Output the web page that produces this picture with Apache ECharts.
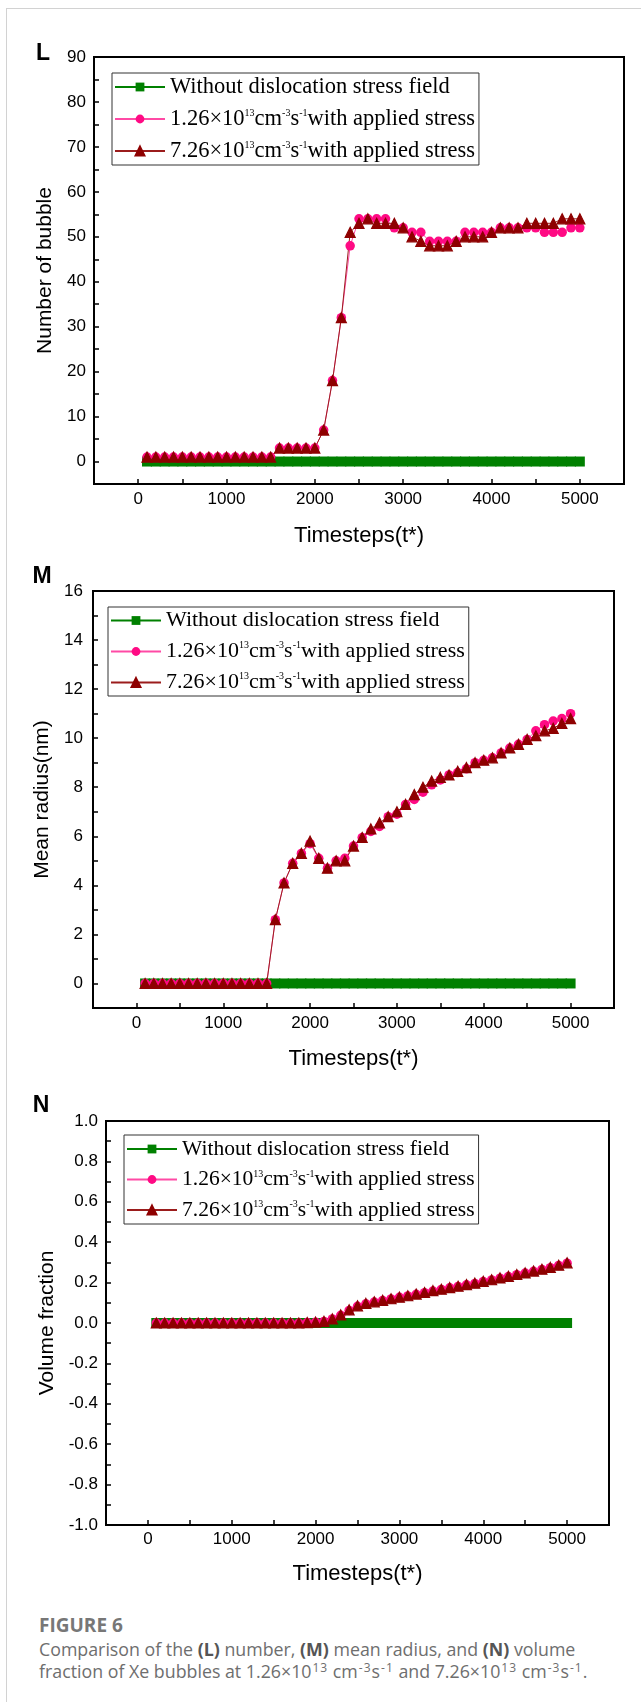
<!DOCTYPE html>
<html>
<head>
<meta charset="utf-8">
<script src="https://cdn.jsdelivr.net/npm/echarts@6/dist/echarts.min.js"></script>
<style>
  html, body { margin: 0; padding: 0; background: #fff; }
  body { width: 641px; height: 1702px; position: relative; overflow: hidden; }
  #frame { position: absolute; left: 6px; top: 8px; width: 700px; height: 1800px;
           border-left: 1px solid #d2d2d2; border-top: 1px solid #d2d2d2; }
  #chart { position: absolute; left: 0; top: 0; width: 641px; height: 1600px; }
  #cap { position: absolute; left: 39px; top: 1612px; width: 600px;
         font-family: "Open Sans", "Noto Sans", sans-serif; color: #6e6e6e;
         font-size: 17.8px; line-height: 22px; }
  #cap .fig { font-weight: bold; font-size: 19px; line-height: 26px; color: #777; }
  #cap b { color: #555; }
  #cap sup { font-size: 12px; line-height: 0; vertical-align: 6px; letter-spacing: 1px; margin-left: 1px; }
</style>
</head>
<body>
<div id="frame"></div>
<div id="chart"></div>
<div id="cap">
  <div class="fig">FIGURE 6</div>
  <div>Comparison of the <b>(L)</b> number, <b>(M)</b> mean radius, and <b>(N)</b> volume<br>fraction of Xe bubbles at 1.26×10<sup>13</sup> cm<sup>-3</sup>s<sup>-1</sup> and 7.26×10<sup>13</sup> cm<sup>-3</sup>s<sup>-1</sup>.</div>
</div>
<script>
// x values (timesteps)
const timesteps = [100, 200, 300, 400, 500, 600, 700, 800, 900, 1000,
  1100, 1200, 1300, 1400, 1500, 1600, 1700, 1800, 1900, 2000,
  2100, 2200, 2300, 2400, 2500, 2600, 2700, 2800, 2900, 3000,
  3100, 3200, 3300, 3400, 3500, 3600, 3700, 3800, 3900, 4000,
  4100, 4200, 4300, 4400, 4500, 4600, 4700, 4800, 4900, 5000];

// (L) number of bubble
const numberNoStress = [0, 0, 0, 0, 0, 0, 0, 0, 0, 0, 0, 0, 0, 0, 0, 0, 0, 0, 0, 0, 0, 0, 0, 0, 0,
  0, 0, 0, 0, 0, 0, 0, 0, 0, 0, 0, 0, 0, 0, 0, 0, 0, 0, 0, 0, 0, 0, 0, 0, 0];
const number126 = [1, 1, 1, 1, 1, 1, 1, 1, 1, 1, 1, 1, 1, 1, 1, 3, 3, 3, 3, 3,
  7, 18, 32, 48, 54, 54, 54, 54, 52, 52, 51, 51, 49, 49, 49, 49, 51, 51, 51, 51,
  52, 52, 52, 52, 52, 51, 51, 51, 52, 52];
const number726 = [1, 1, 1, 1, 1, 1, 1, 1, 1, 1, 1, 1, 1, 1, 1, 3, 3, 3, 3, 3,
  7, 18, 32, 51, 53, 54, 53, 53, 53, 52, 50, 49, 48, 48, 48, 49, 50, 50, 50, 51,
  52, 52, 52, 53, 53, 53, 53, 54, 54, 54];

// (M) mean radius (nm)
const radiusNoStress = [0, 0, 0, 0, 0, 0, 0, 0, 0, 0, 0, 0, 0, 0, 0, 0, 0, 0, 0, 0, 0, 0, 0, 0, 0,
  0, 0, 0, 0, 0, 0, 0, 0, 0, 0, 0, 0, 0, 0, 0, 0, 0, 0, 0, 0, 0, 0, 0, 0, 0];
const radius126 = [0, 0, 0, 0, 0, 0, 0, 0, 0, 0, 0, 0, 0, 0, 0,
  2.6, 4.1, 4.9, 5.3, 5.7, 5.1, 4.7, 5.0, 5.1, 5.6, 5.95, 6.2, 6.4, 6.8, 6.9,
  7.3, 7.5, 7.8, 8.1, 8.3, 8.5, 8.6, 8.75, 9.0, 9.1, 9.2, 9.4, 9.6, 9.75, 9.95,
  10.3, 10.55, 10.7, 10.8, 11.0];
const radius726 = [0, 0, 0, 0, 0, 0, 0, 0, 0, 0, 0, 0, 0, 0, 0,
  2.6, 4.1, 4.9, 5.3, 5.8, 5.1, 4.7, 5.0, 5.0, 5.6, 5.95, 6.3, 6.55, 6.8, 7.0,
  7.3, 7.7, 8.0, 8.25, 8.4, 8.5, 8.65, 8.8, 9.0, 9.1, 9.2, 9.4, 9.6, 9.75, 9.95,
  10.1, 10.3, 10.4, 10.6, 10.8];

// (N) volume fraction
const fractionNoStress = [0, 0, 0, 0, 0, 0, 0, 0, 0, 0, 0, 0, 0, 0, 0, 0, 0, 0, 0, 0, 0, 0, 0, 0, 0,
  0, 0, 0, 0, 0, 0, 0, 0, 0, 0, 0, 0, 0, 0, 0, 0, 0, 0, 0, 0, 0, 0, 0, 0, 0];
const fraction126 = [0, 0, 0, 0, 0, 0, 0, 0, 0, 0, 0, 0, 0, 0, 0, 0, 0, 0,
  0.002, 0.004, 0.008, 0.02, 0.038, 0.062, 0.083, 0.095, 0.104, 0.111, 0.119, 0.127,
  0.134, 0.142, 0.15, 0.158, 0.166, 0.174, 0.181, 0.189, 0.196, 0.205,
  0.213, 0.222, 0.23, 0.239, 0.247, 0.256, 0.265, 0.274, 0.285, 0.296];
const fraction726 = [0, 0, 0, 0, 0, 0, 0, 0, 0, 0, 0, 0, 0, 0, 0, 0, 0, 0,
  0.002, 0.004, 0.008, 0.02, 0.04, 0.065, 0.085, 0.097, 0.105, 0.112, 0.12, 0.128,
  0.135, 0.143, 0.151, 0.16, 0.167, 0.175, 0.182, 0.19, 0.197, 0.206,
  0.214, 0.223, 0.231, 0.24, 0.248, 0.257, 0.266, 0.275, 0.286, 0.298];

// tick labels
const timeTickLabels = [0, 1000, 2000, 3000, 4000, 5000];
const numberTickLabels = [0, 10, 20, 30, 40, 50, 60, 70, 80, 90];
const radiusTickLabels = [0, 2, 4, 6, 8, 10, 12, 14, 16];
const fractionTickLabels = ["-1.0", "-0.8", "-0.6", "-0.4", "-0.2", "0.0", "0.2", "0.4", "0.6", "0.8", "1.0"];

const seriesNames = ["Without dislocation stress field",
  "1.26x10^13cm^-3s^-1with applied stress",
  "7.26x10^13cm^-3s^-1with applied stress"];
const legendRich = {
  "1.26x10^13cm^-3s^-1with applied stress": "{n|1.26×10}{s|13}{n|cm}{s|-3}{n|s}{s|-1}{n|with applied stress}",
  "7.26x10^13cm^-3s^-1with applied stress": "{n|7.26×10}{s|13}{n|cm}{s|-3}{n|s}{s|-1}{n|with applied stress}",
  "Without dislocation stress field": "{n|Without dislocation stress field}"
};

const panels = [
  {
    tag: "L", tagX: 43, tagY: 54,
    grid: { left: 94, top: 57, width: 530, height: 427 },
    y: { min: -5, max: 90, interval: 5 },
    yFmt: v => (numberTickLabels.indexOf(v) >= 0 ? String(v) : ""),
    yName: "Number of bubble", yNameGap: 35, yMargin: 8, xMargin: 7, xNameGap: 41,
    legend: { left: 112, top: 73, fontSize: 22.5, lineHeight: 24, gap: 8.5, pad: [2.5, 4, 2.5, 2] },
    data: [numberNoStress, number126, number726]
  },
  {
    tag: "M", tagX: 42, tagY: 577,
    grid: { left: 93, top: 591, width: 521, height: 417 },
    y: { min: -1, max: 16, interval: 1 },
    yFmt: v => (radiusTickLabels.indexOf(v) >= 0 ? String(v) : ""),
    yName: "Mean radius(nm)", yNameGap: 33, yMargin: 10, xMargin: 7, xNameGap: 40,
    legend: { left: 108, top: 607, fontSize: 22, lineHeight: 24, gap: 8, pad: [2.5, 4, 2.5, 2] },
    data: [radiusNoStress, radius126, radius726]
  },
  {
    tag: "N", tagX: 41, tagY: 1106,
    grid: { left: 106, top: 1121, width: 503, height: 404 },
    y: { min: -1, max: 1, interval: 0.1 },
    yFmt: v => { const s = v.toFixed(1); return fractionTickLabels.indexOf(s) >= 0 ? s : ""; },
    yName: "Volume fraction", yNameGap: 43, yMargin: 8, xMargin: 6, xNameGap: 38,
    legend: { left: 124, top: 1135, fontSize: 21.5, lineHeight: 23, gap: 8, pad: [3, 4, 3, 2] },
    data: [fractionNoStress, fraction126, fraction726]
  }
];

const styles = [
  { symbol: "rect", size: 10, color: "#008000", line: "#008000", border: 0 },
  { symbol: "circle", size: 9.5, color: "#ff0a84", line: "#ff4aa5", border: 0 },
  { symbol: "triangle", size: 10, color: "#8e0000", line: "#9b1c1c", border: 1.2 }
];

const axisFont = "Liberation Sans";
const option = {
  animation: false,
  grid: [], xAxis: [], yAxis: [], legend: [], series: [], graphic: []
};

panels.forEach((p, i) => {
  option.grid.push(Object.assign({ show: true, borderColor: "#000", borderWidth: 2,
    backgroundColor: "transparent", containLabel: false }, p.grid));
  option.xAxis.push({
    type: "value", gridIndex: i, min: -500, max: 5500, interval: 500,
    name: "Timesteps(t*)", nameLocation: "middle", nameGap: p.xNameGap,
    nameTextStyle: { fontFamily: axisFont, fontSize: 22, color: "#000" },
    axisLine: { show: true, onZero: false, lineStyle: { color: "#000", width: 2 } },
    axisTick: { inside: true, length: 5, lineStyle: { color: "#000", width: 1.5 } },
    axisLabel: { margin: p.xMargin, fontFamily: axisFont, fontSize: 17, color: "#000",
      formatter: v => (timeTickLabels.indexOf(v) >= 0 ? String(v) : "") },
    splitLine: { show: false }
  });
  option.yAxis.push(Object.assign({
    type: "value", gridIndex: i,
    name: p.yName, nameLocation: "middle", nameGap: p.yNameGap,
    nameTextStyle: { fontFamily: axisFont, fontSize: 21, color: "#000" },
    axisLine: { show: true, onZero: false, lineStyle: { color: "#000", width: 2 } },
    axisTick: { inside: true, length: 5, lineStyle: { color: "#000", width: 1.5 } },
    axisLabel: { margin: p.yMargin, fontFamily: axisFont, fontSize: 17, color: "#000", formatter: p.yFmt },
    splitLine: { show: false }
  }, p.y));
  option.legend.push({
    orient: "vertical", left: p.legend.left, top: p.legend.top,
    data: seriesNames, selectedMode: false,
    backgroundColor: "#fff", borderColor: "#333", borderWidth: 1,
    padding: p.legend.pad, itemGap: p.legend.gap, itemWidth: 50, itemHeight: 11,
    formatter: name => legendRich[name],
    textStyle: {
      color: "#000",
      rich: {
        n: { fontFamily: "Liberation Serif", fontSize: p.legend.fontSize, lineHeight: p.legend.lineHeight, color: "#000" },
        s: { fontFamily: "Liberation Serif", fontSize: 10, lineHeight: 12, verticalAlign: "top", color: "#000", padding: [1, 0, 0, 0] }
      }
    }
  });
  p.data.forEach((ys, k) => {
    const st = styles[k];
    option.series.push({
      name: seriesNames[k], type: "line", xAxisIndex: i, yAxisIndex: i,
      data: timesteps.map((t, j) => [t, ys[j]]),
      symbol: st.symbol, symbolSize: st.size, showSymbol: true,
      itemStyle: { color: st.color, borderColor: st.color, borderWidth: st.border },
      lineStyle: { color: st.line, width: 1 },
      emphasis: { disabled: true }
    });
  });
  option.graphic.push({
    type: "text", x: p.tagX, y: p.tagY, silent: true,
    style: { text: p.tag, font: "bold 23px Liberation Sans", fill: "#000",
      align: "center", verticalAlign: "middle", textAlign: "center", textVerticalAlign: "middle" }
  });
});

const chart = echarts.init(document.getElementById("chart"));
chart.setOption(option);
</script>
</body>
</html>
